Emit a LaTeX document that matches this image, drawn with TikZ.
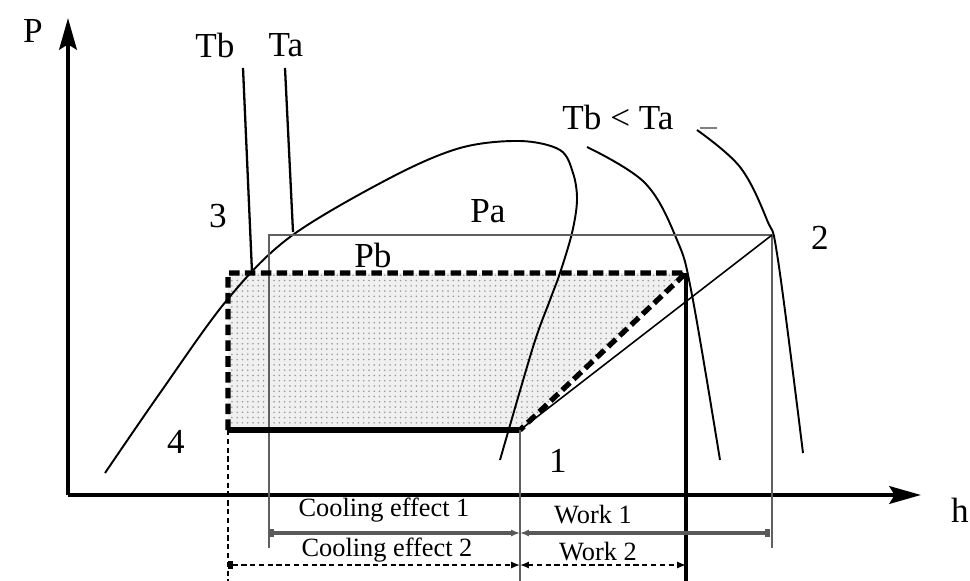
\documentclass[tikz,border=0pt]{standalone}
\usepackage{fontspec}
\setmainfont{Liberation Serif}
\usetikzlibrary{arrows.meta,patterns}

\begin{document}
\begin{tikzpicture}[x=0.02cm,y=-0.02cm,
  axis/.style={line width=2.3pt,-{Stealth[length=18pt,width=10pt,inset=3pt]}},
  curve/.style={line width=1.1pt},
  isoline/.style={line width=1.3pt},
  thin/.style={line width=0.8pt,draw=gray!75!black},
  pbline/.style={line width=3pt,dash pattern=on 6pt off 3pt},
  dimsolid/.style={line width=2pt,draw=gray!70!black},
  dimdash/.style={line width=0.9pt,densely dashed},
  lbl/.style={font=\fontsize{20}{24}\selectfont,inner sep=1pt},
  dimlbl/.style={font=\fontsize{15}{18}\selectfont,inner sep=1pt}]
\useasboundingbox (0,0) rectangle (970,581);
% points of the cycles
\coordinate (p1) at (520,430);
\coordinate (p2) at (772,235);
\coordinate (p4) at (228,430);
\coordinate (pbl) at (228,273);
\coordinate (pbr) at (686,273);
\coordinate (pal) at (269,235);
% shaded area
\fill[gray!12] (pbl) -- (pbr) -- (p1) -- (p4) -- cycle;
\fill[pattern=dots,pattern color=gray!80] (pbl) -- (pbr) -- (p1) -- (p4) -- cycle;
% axes
\draw[axis] (68,495) -- (68,18);
\draw[axis] (68,495) -- (921,495);
\node[lbl] (lP) at (33,31) {P};
\node[lbl] (lh) at (960,510) {h};
% saturation dome and isotherms
\draw[curve] plot[smooth,tension=0.55] coordinates {(105,473) (160,393) (227,300) (290,237) (390,178) (460,148) (520,141) (560,150) (573,173) (577,200) (572,233) (560,273) (550,300) (533,347) (500,460)};
\draw[curve] plot[smooth,tension=0.6] coordinates {(587,147) (645,183) (677,240) (692,295) (720,460)};
\draw[curve] plot[smooth,tension=0.6] coordinates {(697,130) (740,167) (767,220) (778,260) (803,453)};
\draw[line width=0.6pt,gray] (700,128) -- (717,128);
\draw[isoline] (243,68) -- (252,272);
\draw[isoline] (285,68) -- (293,232);
% cycle a
\draw[thin] (269,548) -- (pal) -- (p2) -- (772,548);
\draw[line width=0.9pt] (p1) -- (p2);
% cycle b
\draw[pbline] (p4) -- (pbl) -- (pbr) -- (p1);
\draw[line width=3pt] (p4) -- (p1);
\draw[line width=2.4pt] (pbr) -- (686,581);
\draw[line width=1.6pt,densely dashed] (p4) -- (228,581);
\draw[thin] (p1) -- (520,581);
% dimensions
\draw[dimsolid,{Square[length=3pt,width=4pt]}-{Latex[length=5pt,width=4pt]}] (269,533) -- (520,533);
\draw[dimsolid,{Latex[length=5pt,width=4pt]}-{Square[length=3pt,width=4pt]}] (520,533) -- (770,533);
\draw[dimdash,{Square[length=3pt,width=4pt]}-{Latex[length=5pt,width=4pt]}] (228,565) -- (520,565);
\draw[dimdash,{Latex[length=5pt,width=4pt]}-{Latex[length=5pt,width=4pt]}] (520,565) -- (686,565);
\node[dimlbl] (ce1) at (384,510) {Cooling effect 1};
\node[dimlbl] (w1) at (593,515) {Work 1};
\node[dimlbl] (ce2) at (387,550) {Cooling effect 2};
\node[dimlbl] (w2) at (598,552) {Work 2};
% labels
\node[lbl] (lTb) at (215,45) {Tb};
\node[lbl] (lTa) at (286,45) {Ta};
\node[lbl] (lTbTa) at (618,117) {Tb < Ta};
\node[lbl] (lPa) at (488,211) {Pa};
\node[lbl] (lPb) at (373,255) {Pb};
\node[lbl] (l3) at (218,216) {3};
\node[lbl] (l4) at (176,442) {4};
\node[lbl] (l1) at (558,461) {1};
\node[lbl] (l2) at (820,238) {2};
\end{tikzpicture}
\end{document}
